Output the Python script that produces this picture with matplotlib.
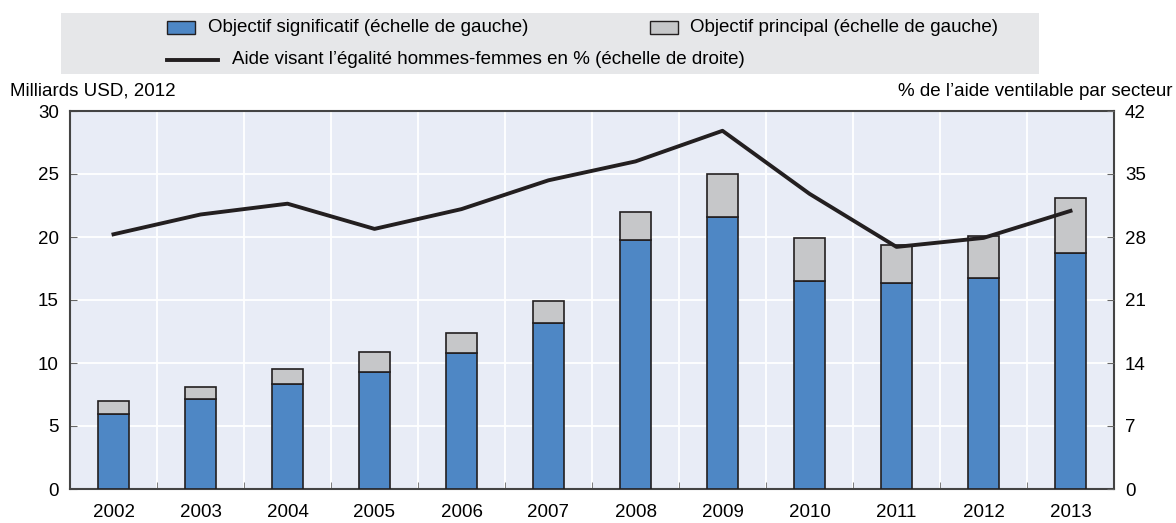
import numpy as np
import matplotlib.pyplot as plt
from matplotlib.patches import Rectangle
from matplotlib.lines import Line2D

plt.rcParams['font.family'] = ['Liberation Sans Narrow', 'Liberation Sans', 'DejaVu Sans']

# Data
years = ['2002', '2003', '2004', '2005', '2006', '2007',
         '2008', '2009', '2010', '2011', '2012', '2013']
significatif = [5.95, 7.14, 8.31, 9.29, 10.77, 13.2, 19.74, 21.56, 16.5, 16.33, 16.75, 18.73]
principal = [1.03, 0.93, 1.19, 1.58, 1.59, 1.7, 2.26, 3.44, 3.44, 3.01, 3.31, 4.39]
part_egalite = [28.3, 30.5, 31.7, 28.9, 31.1, 34.3, 36.4, 39.8, 32.8, 26.9, 27.9, 30.9]

left_ticks = [0, 5, 10, 15, 20, 25, 30]
right_ticks = [0, 7, 14, 21, 28, 35, 42]

blue = '#4e87c5'
grey = '#c6c7c9'
edge = '#231f20'
bg = '#e8ecf6'
fs = 13.5

fig = plt.figure(figsize=(11.76, 5.23), dpi=100)
ax = fig.add_axes([70 / 1176, 1 - 489 / 523, 1044 / 1176, 378 / 523])
ax.set_facecolor(bg)

x = np.arange(len(years))
ax.bar(x, significatif, width=0.35, color=blue, edgecolor=edge, linewidth=1.2, zorder=3)
ax.bar(x, principal, width=0.35, bottom=significatif, color=grey, edgecolor=edge,
       linewidth=1.2, zorder=3)

ax.set_xlim(-0.5, len(years) - 0.5)
ax.set_ylim(0, 30)
ax.set_yticks(left_ticks)
ax.set_xticks(x)
ax.set_xticklabels(years, fontsize=fs)
ax.set_xticks(np.arange(0.5, len(years) - 1, 1), minor=True)
ax.tick_params(axis='x', which='major', length=0, pad=11)
ax.tick_params(axis='x', which='minor', direction='in', length=5, color='#666666')
ax.tick_params(axis='y', direction='in', length=5, color='#666666', labelsize=fs, pad=8)

ax.grid(axis='y', color='white', linewidth=1.3, zorder=0)
ax.grid(axis='x', which='minor', color='white', linewidth=1.3, zorder=0)
ax.set_axisbelow(True)
for s in ax.spines.values():
    s.set_color('#444444')
    s.set_linewidth(1.5)

ax2 = ax.twinx()
ax2.plot(x, part_egalite, color=edge, linewidth=2.8, zorder=5)
ax2.set_ylim(0, 42)
ax2.set_yticks(right_ticks)
ax2.tick_params(axis='y', direction='in', length=5, color='#666666', labelsize=fs, pad=8)
for s in ax2.spines.values():
    s.set_visible(False)

fig.text(10 / 1176, 1 - 91 / 523, 'Milliards USD, 2012', fontsize=fs, va='center', ha='left')
fig.text(1172 / 1176, 1 - 91 / 523, "% de l\u2019aide ventilable par secteur", fontsize=fs,
         va='center', ha='right')

# Legend box
W, H = 1176, 523
fig.add_artist(Rectangle((61 / W, 1 - 74 / H), 978 / W, 61 / H, transform=fig.transFigure,
                         facecolor='#e6e7e9', edgecolor='none'))
fig.add_artist(Rectangle((167 / W, 1 - 34 / H), 28 / W, 13 / H, transform=fig.transFigure,
                         facecolor=blue, edgecolor=edge, linewidth=1))
fig.text(208 / W, 1 - 28 / H, 'Objectif significatif (\u00e9chelle de gauche)', fontsize=fs,
         va='center', ha='left')
fig.add_artist(Rectangle((650 / W, 1 - 34 / H), 28 / W, 13 / H, transform=fig.transFigure,
                         facecolor=grey, edgecolor=edge, linewidth=1))
fig.text(690 / W, 1 - 28 / H, 'Objectif principal (\u00e9chelle de gauche)', fontsize=fs,
         va='center', ha='left')
fig.add_artist(Line2D([167 / W, 218 / W], [1 - 60 / H, 1 - 60 / H], transform=fig.transFigure,
                      color=edge, linewidth=2.8))
fig.text(232 / W, 1 - 59 / H,
         "Aide visant l\u2019\u00e9galit\u00e9 hommes-femmes en % (\u00e9chelle de droite)",
         fontsize=fs, va='center', ha='left')

fig.savefig('out.png', dpi=100)
